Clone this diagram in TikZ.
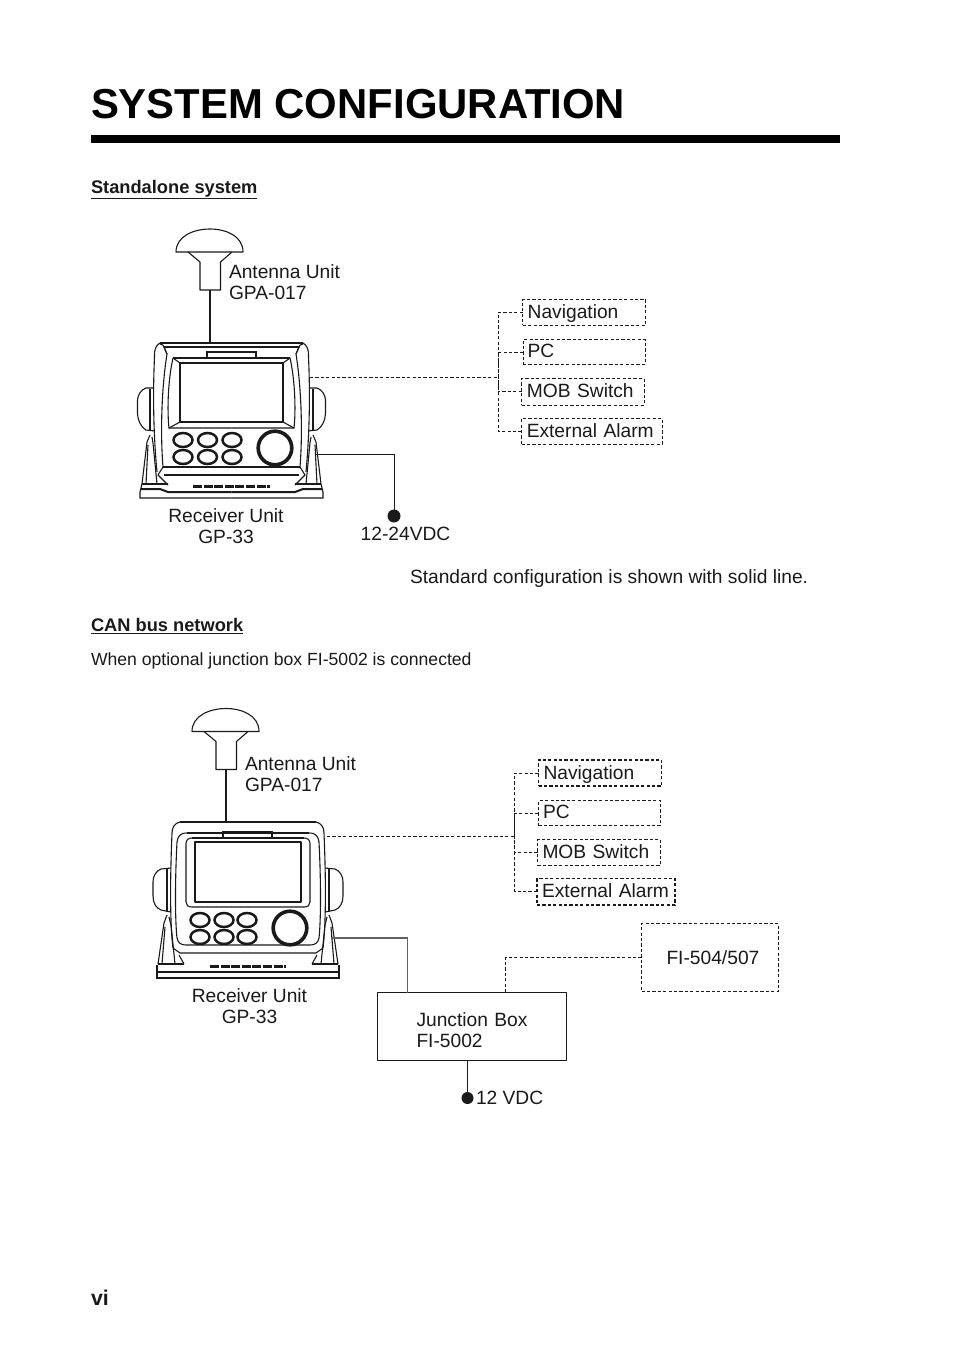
\documentclass[tikz,border=0pt]{standalone}
\usepackage{fontspec}
\setmainfont{Liberation Sans}
\definecolor{ink}{HTML}{1A1A1A}
\newlength{\pxu}\setlength{\pxu}{0.75pt}
\newcommand{\bodyfont}{\fontsize{14.4}{15.75}\selectfont}
\tikzset{
  x=0.75pt,y=-0.75pt,
  every node/.style={text=ink,font=\bodyfont,inner sep=0pt,outer sep=0pt},
  thin line/.style={draw=ink,line width=1.1\pxu},
  heavy line/.style={draw=ink,line width=2\pxu},
  button/.style={draw=ink,line width=2.5\pxu},
  greyline/.style={draw=black!62,line width=1.1\pxu},
  solidline/.style={draw=ink,line width=0.9\pxu},
  antline/.style={draw=ink,line width=1.4\pxu},
  dashline/.style={draw=ink,line width=0.9\pxu,dash pattern=on 3.2\pxu off 2.2\pxu},
  dashbox/.style={dashline,align=left,anchor=north west,inner xsep=5\pxu,text height=14.4\pxu,text depth=3\pxu},
  heavydash/.style={dashbox,line width=1.5\pxu},
  heading/.style={font=\fontsize{13.7}{15}\bfseries\selectfont,anchor=base west},
  terminal/.style={circle,fill=ink,minimum size=13\pxu},
  label/.style={align=left,anchor=west},
  centred/.style={align=center,anchor=center},
}
\newcommand{\antenna}{%
  \draw[thin line,line join=round] (176,252) .. controls (176,236) and (194,229) .. (210,229)
     .. controls (226,229) and (243,236) .. (243,252) -- cycle;
  \draw[thin line,line join=round] (188,252) -- (200,262) -- (200,290) -- (220.5,290) -- (220.5,262) -- (232,252);
}
\newcommand{\halfA}{%
  \draw[thin line] (160,343) -- (231.5,343);
  \draw[thin line] (164,347) -- (231.5,347);
  \draw[thin line] (160,343) .. controls (156,345) and (154,350) .. (154.5,357) .. controls (152.5,400) and (154,440) .. (157,472);
  \draw[thin line] (163,345) -- (167,354) .. controls (162,385) and (160,430) .. (163,467);
  \draw[thin line] (160,344) -- (163,345) (164,347) -- (167,354);
  \draw[thin line] (173,358) -- (231.5,358);
  \draw[thin line] (173,358) .. controls (168,380) and (167,410) .. (169,428) -- (231.5,428);
  \draw[thin line] (173,358) -- (180,363) (169,428) -- (180,422);
  \draw[heavy line,line join=round] (231.5,363) -- (180,363) -- (180,422) -- (231.5,422);
  \draw[thin line] (154,388) -- (146,388) .. controls (141,390) and (138,394) .. (137.5,400) -- (137.5,414) .. controls (138,421) and (141,427) .. (146,430) -- (155,431);
  \draw[heavy line] (150,389) -- (150,430);
  \draw[thin line] (163,467) -- (231.5,467);
  \draw[thin line] (164,475) -- (231.5,475);
  \draw[thin line] (163,467) -- (158,475) -- (168,485);
  \draw[thin line] (150,435) -- (147,442) -- (142,484);
  \draw[thin line] (152,437) -- (153,443) -- (157,484);
  \draw[thin line] (148,445) -- (146,484);
  \draw[heavy line] (142,484) -- (168,484);
  \draw[thin line] (142,484) -- (141,488) -- (140,492) -- (140,498) -- (231.5,498);
  \draw[heavy line] (141,489) -- (160,489) -- (168,492) -- (231.5,492);
}
\newcommand{\halfB}{%
  \draw[thin line] (180,822) -- (248,822);
  \draw[thin line] (180,822) .. controls (175,823) and (172,827) .. (172,833) .. controls (170,880) and (170,925) .. (173,948);
  \draw[thin line] (173,948) -- (180,953) -- (248,953);
  \draw[thin line] (187,833) -- (248,833);
  \draw[thin line] (187,833) .. controls (180,833) and (178,836) .. (177,842) .. controls (175,880) and (175,920) .. (177,938) .. controls (178,943) and (181,945) .. (186,945) -- (248,945);
  \draw[thin line] (192,838) -- (248,838);
  \draw[thin line] (192,838) .. controls (188,838) and (186,840) .. (186,844) -- (186,902) .. controls (186,905) and (188,907) .. (192,907) -- (248,907);
  \draw[heavy line,line join=round] (248,842) -- (195,842) -- (195,902) -- (248,902);
  \draw[thin line] (171,868) -- (161,869) .. controls (156,871) and (153,876) .. (153,882) -- (153,896) .. controls (153,903) and (156,908) .. (161,910) -- (171,912);
  \draw[heavy line] (167,868) -- (167,912);
  \draw[thin line] (167,915) -- (164,923) -- (158,964);
  \draw[thin line] (169,917) -- (171,925) -- (175,964);
  \draw[thin line] (165,927) -- (162,964);
  \draw[heavy line] (158,964) -- (184,964);
  \draw[thin line] (179,955) -- (184,964);
  \draw[thin line] (157,965) -- (157,978) -- (248,978);
  \draw[heavy line] (157,971.5) -- (248,971.5);
}
\begin{document}
\begin{tikzpicture}
\useasboundingbox (0,0) rectangle (954,1350);
\fill[white] (0,0) rectangle (954,1350);

% page furniture
\node[font=\fontsize{31.4}{36}\bfseries\selectfont,anchor=base west,text=black] (title) at (91,118.5) {SYSTEM CONFIGURATION};
\fill[black] (91,135) rectangle (840,143);
\node[heading] (head1) at (91,193) {\underline{Standalone system}};
\node[heading] (head2) at (91,631) {\underline{CAN bus network}};
\node[font=\fontsize{13.2}{15}\selectfont,anchor=base west] (when) at (91,665) {When optional junction box FI-5002 is connected};
\node[font=\fontsize{16}{18}\bfseries\selectfont,anchor=base west] (pageno) at (91,1305) {vi};
\node[anchor=base west] (std) at (410,583) {Standard configuration is shown with solid line.};

% ---------- standalone system ----------
\antenna
\halfA
\begin{scope}[shift={(463,0)},xscale=-1]\halfA\end{scope}
\draw[thin line] (207,358) -- (207,352) -- (256,352) -- (256,358);
\foreach \ex/\ey in {183/440,207.5/440,232/440,183/457,207.5/457,232/457}
  \draw[button] (\ex,\ey) ellipse [x radius=9.5,y radius=7];
\draw[draw=ink,line width=3.6\pxu] (275,448) circle [radius=16.8];
\draw[draw=ink,line width=3.2\pxu,dash pattern=on 9\pxu off 1.6\pxu] (193,486.5) -- (270,486.5);

\coordinate (ant1) at (210,290);
\coordinate (rx1top) at (210,343);
\coordinate (rx1out) at (310,377);
\coordinate (rx1pwr) at (316,454);
\coordinate (bus1) at (498,377);
\draw[antline] (ant1) -- (rx1top);

\node[label] (antlab1) at (229,282) {Antenna Unit\\GPA-017};
\node[centred] (rxlab1) at (226,526) {Receiver Unit\\GP-33};
\node[terminal] (pwr1) at (394,516) {};
\node[centred] (vdc1) at (405.5,533.5) {12-24VDC};
\draw[solidline] (rx1pwr) -| (pwr1.north);

\node[dashbox,minimum width=123\pxu,minimum height=26\pxu,text width=113\pxu] (nav1) at (522.7,299.3) {Navigation};
\node[dashbox,minimum width=122\pxu,minimum height=25\pxu,text width=113\pxu,inner xsep=4\pxu] (pc1) at (523,339.5) {PC};
\node[dashbox,minimum width=122.5\pxu,minimum height=26.5\pxu,text width=112\pxu] (mob1) at (521.7,378.5) {MOB Switch};
\node[dashbox,minimum width=140.5\pxu,minimum height=26\pxu,text width=130\pxu] (ext1) at (521.5,418.3) {External Alarm};
\draw[dashline] (rx1out) -- (bus1);
\draw[dashline] (nav1.west) -| (bus1);
\draw[dashline] (pc1.west) -| (bus1);
\draw[dashline] (mob1.west) -| (bus1);
\draw[dashline] (ext1.west) -| (bus1);

% ---------- CAN bus network ----------
\begin{scope}[shift={(16,479.5)}]\antenna\end{scope}
\halfB
\begin{scope}[shift={(496,0)},xscale=-1]\halfB\end{scope}
\draw[thin line] (223,837) -- (223,832) -- (272,832) -- (272,837);
\foreach \ex/\ey in {200/920,224/920,247/920,200/937,224/937,247/937}
  \draw[button] (\ex,\ey) ellipse [x radius=9.5,y radius=7];
\draw[draw=ink,line width=3.6\pxu] (290,928) circle [radius=16.8];
\draw[draw=ink,line width=3.2\pxu,dash pattern=on 9\pxu off 1.6\pxu] (210,966.5) -- (286,966.5);

\coordinate (ant2) at (226,770);
\coordinate (rx2top) at (226,822);
\coordinate (rx2out) at (327,836);
\coordinate (rx2pwr) at (331,938);
\coordinate (bus2) at (514.5,836);
\draw[antline] (ant2) -- (rx2top);

\node[label] (antlab2) at (245,774) {Antenna Unit\\GPA-017};
\node[centred] (rxlab2) at (249.5,1006) {Receiver Unit\\GP-33};

\node[heavydash,minimum width=123\pxu,minimum height=26\pxu,text width=113\pxu,text height=15.4\pxu] (nav2) at (538.5,760) {Navigation};
\node[dashbox,minimum width=122\pxu,minimum height=25\pxu,text width=113\pxu,inner xsep=4\pxu] (pc2) at (538.5,800.5) {PC};
\node[dashbox,minimum width=123\pxu,minimum height=26\pxu,text width=113\pxu] (mob2) at (537.5,839.5) {MOB Switch};
\node[dashbox,minimum width=138\pxu,minimum height=26.5\pxu,text width=128\pxu,line width=1.1\pxu,text height=15.4\pxu] (ext2) at (537,878.5) {External Alarm};
\draw[dashline] (rx2out) -- (bus2);
\draw[dashline] (nav2.west) -| (bus2);
\draw[dashline] (pc2.west) -| (bus2);
\draw[dashline] (mob2.west) -| (bus2);
\draw[dashline] (ext2.west) -| (bus2);

\node[draw=ink,line width=0.9\pxu,anchor=north west,align=left,minimum width=189\pxu,minimum height=68\pxu,text width=111\pxu,inner xsep=39\pxu,inner ysep=0pt] (jb) at (377.5,992.5) {\rule{0pt}{16pt}Junction Box\\FI-5002};
\node[dashbox,minimum width=137\pxu,minimum height=68\pxu,text width=87\pxu,inner xsep=25\pxu,text height=17.4\pxu] (fi) at (641.5,923.5) {\mbox{FI-504/507}};
\node[terminal,minimum size=12\pxu] (pwr2) at (467.5,1098) {};
\node[anchor=west] (vdc2) at (476,1098) {12 VDC};
\coordinate (jbtop1) at (407.5,992.5);
\coordinate (jbtop2) at (505.5,992.5);
\draw[greyline] (rx2pwr) -| (jbtop1);
\draw[dashline] (fi.west) -| (jbtop2);
\draw[solidline] (jb.south -| pwr2) -- (pwr2.north);
\end{tikzpicture}
\end{document}
